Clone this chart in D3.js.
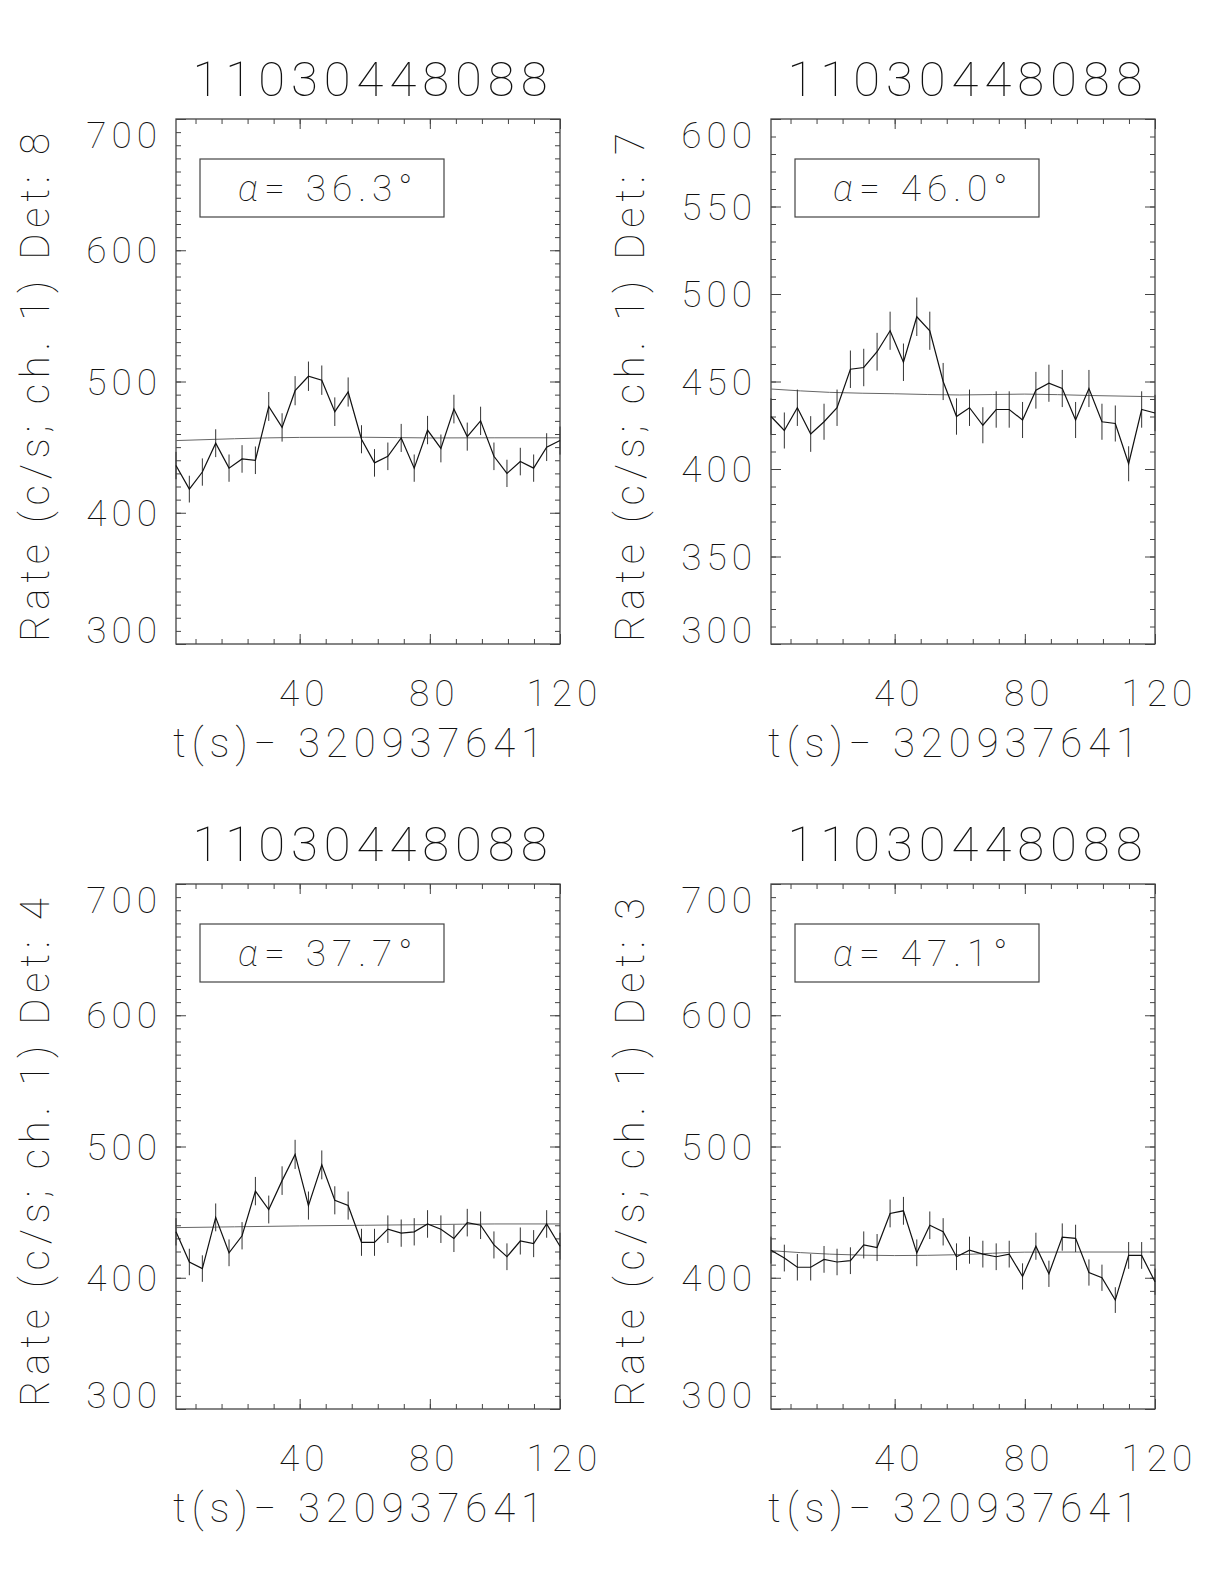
<!DOCTYPE html>
<html>
<head>
<meta charset="utf-8">
<script src="https://cdn.jsdelivr.net/npm/d3@7"></script>
<style>
body{margin:0;background:#fff;}
text{font-family:Roboto,Lato,"DejaVu Sans",sans-serif;font-weight:100;fill:#111;}
</style>
</head>
<body>
<svg id="chart" width="1224" height="1584"></svg>
<script>
// time bins (s) after 320937641
var times = [2.0,6.1,10.1,14.2,18.3,22.3,26.4,30.5,34.6,38.6,42.7,46.8,50.8,54.9,59.0,
             63.0,67.1,71.2,75.2,79.3,83.4,87.4,91.5,95.6,99.7,103.7,107.8,111.9,115.9,120.0];

var rateDet8 = [436,418,431,453,434,441,440,481,465,493,504,501,477,492,456,438,443,457,434,463,449,479,458,470,443,430,439,434,450,455];
var errDet8  = [10.4,10.2,10.4,10.6,10.4,10.5,10.5,11.0,10.8,11.1,11.2,11.2,10.9,11.1,10.7,10.5,10.5,10.7,10.4,10.8,10.6,10.9,10.7,10.8,10.5,10.4,10.5,10.4,10.6,10.7];

var rateDet7 = [430,422,435,420,427,435,457,458,467,479,461,487,479,450,430,435,425,434,434,428,445,449,446,428,446,427,426,403,434,432];
var errDet7  = [10.4,10.3,10.4,10.2,10.3,10.4,10.7,10.7,10.8,10.9,10.7,11.0,10.9,10.6,10.4,10.4,10.3,10.4,10.4,10.3,10.5,10.6,10.6,10.3,10.6,10.3,10.3,10.0,10.4,10.4];

var rateDet4 = [435,412,407,446,419,432,466,452,474,494,455,486,459,455,427,427,437,434,435,441,437,430,442,440,425,416,428,426,441,424];
var errDet4  = [10.4,10.1,10.1,10.6,10.2,10.4,10.8,10.6,10.9,11.1,10.7,11.0,10.7,10.7,10.3,10.3,10.5,10.4,10.4,10.5,10.5,10.4,10.5,10.5,10.3,10.2,10.3,10.3,10.5,10.3];

var rateDet3 = [421,415,408,408,414,412,413,425,423,449,451,419,440,435,416,421,418,416,418,401,424,403,431,430,404,400,383,417,417,397];
var errDet3  = [10.3,10.2,10.1,10.1,10.2,10.1,10.2,10.3,10.3,10.6,10.6,10.2,10.5,10.4,10.2,10.3,10.2,10.2,10.2,10.0,10.3,10.0,10.4,10.4,10.0,10.0,9.8,10.2,10.2,10.0];

// smooth background fit, sampled at these times
var fitTimes = [2,20,40,60,80,100,120];
var fitDet8 = [455.0,456.4,457.4,457.5,457.0,457.1,457.1];
var fitDet7 = [445.7,443.8,443.0,442.3,442.8,442.0,441.3];
var fitDet4 = [438.2,438.8,439.5,440.0,440.5,441.0,441.0];
var fitDet3 = [420.6,418.0,416.9,417.6,419.5,419.6,419.6];

var detectors = ["8","7","4","3"];
var alphas = ["36.3","46.0","37.7","47.1"];
var plotTitle = "11030448088";
var xTitle = "t(s)\u2212  320937641";
var xTickLabels = [40,80,120];
var yTicksDet8 = [300,400,500,600,700];
var yTicksDet7 = [300,350,400,450,500,550,600];
var yTicksDet4 = [300,400,500,600,700];
var yTicksDet3 = [300,400,500,600,700];

var svg = d3.select("#chart");
svg.append("rect").attr("width",1224).attr("height",1584).attr("fill","#fff");

var W = 384, H = 525;
var fs = 37, ls = 5;      // tick labels
var capH = fs*0.711;
var fsT = 40, capT = fsT*0.711;   // axis titles

var panels = [
  {x0:176, y0:119, det:detectors[0], alpha:alphas[0], rate:rateDet8, err:errDet8, fit:fitDet8, yTicks:yTicksDet8},
  {x0:771, y0:119, det:detectors[1], alpha:alphas[1], rate:rateDet7, err:errDet7, fit:fitDet7, yTicks:yTicksDet7},
  {x0:176, y0:884, det:detectors[2], alpha:alphas[2], rate:rateDet4, err:errDet4, fit:fitDet4, yTicks:yTicksDet4},
  {x0:771, y0:884, det:detectors[3], alpha:alphas[3], rate:rateDet3, err:errDet3, fit:fitDet3, yTicks:yTicksDet3}
];

panels.forEach(drawPanel);

function drawPanel(p){
  var g = svg.append("g").attr("transform",`translate(${p.x0},${p.y0})`);

  var x = d3.scaleLinear().domain([times[0], times[times.length-1]]).range([0,W]);
  var yMin = p.yTicks[0], yMax = p.yTicks[p.yTicks.length-1];
  var y = d3.scaleLinear().domain([yMin,yMax]).range([H,0]);

  var xMinor = d3.range(8,120,8);
  var yMinor = d3.range(yMin+10,yMax,10);

  //刻度线（四边，朝内）
  function ticks(axis, tr){
    g.append("g").attr("transform",tr).call(axis)
      .call(s=>s.select(".domain").remove())
      .call(s=>s.selectAll("text").remove())
      .selectAll("line").attr("stroke","#444").attr("stroke-width",1);
  }
  ticks(d3.axisBottom(x).tickValues(xMinor).tickSize(-5), `translate(0,${H})`);
  ticks(d3.axisBottom(x).tickValues(xTickLabels).tickSize(-10), `translate(0,${H})`);
  ticks(d3.axisTop(x).tickValues(xMinor).tickSize(-5), "translate(0,0)");
  ticks(d3.axisTop(x).tickValues(xTickLabels).tickSize(-10), "translate(0,0)");
  ticks(d3.axisLeft(y).tickValues(yMinor).tickSize(-5), "translate(0,0)");
  ticks(d3.axisLeft(y).tickValues(p.yTicks).tickSize(-10), "translate(0,0)");
  ticks(d3.axisRight(y).tickValues(yMinor).tickSize(-5), `translate(${W},0)`);
  ticks(d3.axisRight(y).tickValues(p.yTicks).tickSize(-10), `translate(${W},0)`);

  //边框
  g.append("rect").attr("width",W).attr("height",H)
    .attr("fill","none").attr("stroke","#444").attr("stroke-width",1.3);

  //y 标签 (端点收进框内)
  g.selectAll(".ylab").data(p.yTicks).enter().append("text")
    .attr("x",-19+ls)
    .attr("y",d=>{
      var c = y(d);
      c = Math.max(c, capH/2+3);
      c = Math.min(c, H-capH/2-1);
      return c + capH/2;
    })
    .attr("text-anchor","end")
    .attr("font-size",fs)
    .attr("letter-spacing",ls)
    .text(d=>d);

  //x 标签
  g.selectAll(".xlab").data(xTickLabels).enter().append("text")
    .attr("x",d=>x(d)+2+ls/2)
    .attr("y",H+49+capH/2)
    .attr("text-anchor","middle")
    .attr("font-size",fs)
    .attr("letter-spacing",ls)
    .text(d=>d);

  //x 轴标题
  g.append("text")
    .attr("x",W/2-10+3)
    .attr("y",H+99+capT/2)
    .attr("text-anchor","middle")
    .attr("font-size",fsT)
    .attr("letter-spacing",6)
    .text(xTitle);

  //标题
  g.append("text")
    .attr("x",W/2+2+3)
    .attr("y",-40+49*0.711/2)
    .attr("text-anchor","middle")
    .attr("font-size",49)
    .attr("letter-spacing",6)
    .text(plotTitle);

  //y 轴标题
  g.append("text")
    .attr("transform",`translate(${-141+capT/2},${H/2+3}) rotate(-90)`)
    .attr("text-anchor","middle")
    .attr("font-size",fsT)
    .attr("letter-spacing",5.8)
    .text("Rate (c/s; ch. 1) Det: "+p.det);

  //alpha 框
  g.append("rect").attr("x",24).attr("y",40).attr("width",244).attr("height",58)
    .attr("fill","none").attr("stroke","#444").attr("stroke-width",1.2);
  var t = g.append("text").attr("x",62).attr("y",69+capH/2)
    .attr("font-size",fs).attr("letter-spacing",6);
  t.append("tspan").attr("font-style","italic").text("\u03b1");
  t.append("tspan").text("=  "+p.alpha+"\u00b0");

  //拟合曲线
  var fitLine = d3.line().x((d,i)=>x(fitTimes[i])).y(d=>y(d)).curve(d3.curveMonotoneX);
  g.append("path").datum(p.fit).attr("d",fitLine)
    .attr("fill","none").attr("stroke","#666").attr("stroke-width",1);

  //误差棒
  g.selectAll(".err").data(p.rate).enter().append("line")
    .attr("x1",(d,i)=>x(times[i])).attr("x2",(d,i)=>x(times[i]))
    .attr("y1",(d,i)=>y(d-p.err[i])).attr("y2",(d,i)=>y(d+p.err[i]))
    .attr("stroke","#333").attr("stroke-width",1);

  //光变曲线
  var line = d3.line().x((d,i)=>x(times[i])).y(d=>y(d));
  g.append("path").datum(p.rate).attr("d",line)
    .attr("fill","none").attr("stroke","#111").attr("stroke-width",1.2);
}
</script>
</body>
</html>
